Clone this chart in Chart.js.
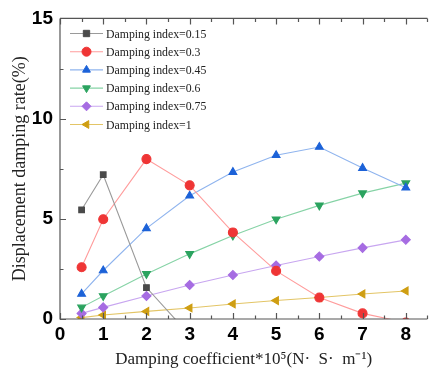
<!DOCTYPE html>
<html>
<head>
<meta charset="utf-8">
<script src="https://cdn.jsdelivr.net/npm/chart.js@4/dist/chart.umd.min.js"></script>
<style>
  html, body { margin: 0; padding: 0; background: #fff; }
  #wrap { width: 433px; height: 371px; position: relative; }
</style>
</head>
<body>
<div id="wrap"><canvas id="chart"></canvas></div>
<script>
// damping coefficient (x 10^5 N·S·m^-1)
const coefficients = [0.5, 1, 2, 3, 4, 5, 6, 7, 8];
const seriesNames = ['Damping index=0.15', 'Damping index=0.3', 'Damping index=0.45',
                     'Damping index=0.6', 'Damping index=0.75', 'Damping index=1'];

// displacement damping rate (%)
const rate015 = [5.45, 7.2, 1.57, -0.8];
const rate03  = [2.58, 4.98, 7.98, 6.67, 4.32, 2.4, 1.07, 0.28, -0.18];
const rate045 = [1.25, 2.42, 4.52, 6.15, 7.33, 8.17, 8.58, 7.53, 6.55];
const rate06  = [0.58, 1.15, 2.25, 3.25, 4.17, 4.98, 5.67, 6.28, 6.78];
const rate075 = [0.28, 0.58, 1.15, 1.7, 2.2, 2.67, 3.12, 3.55, 3.95];
const rate1   = [0.07, 0.2, 0.38, 0.55, 0.75, 0.92, 1.07, 1.25, 1.4];

const yTicks = [0, 5, 10, 15];

const styles = [
  { line: '#9a9a9a', point: '#4a4a4a', shape: 'rect', rot: 0 },
  { line: '#ff9c9c', point: '#ef3535', shape: 'circle', rot: 0 },
  { line: '#8fb4ee', point: '#1c62d8', shape: 'triangle', rot: 0 },
  { line: '#86d3a6', point: '#2ba35f', shape: 'triangle', rot: 180 },
  { line: '#c8a6f0', point: '#a66ce2', shape: 'rectRot', rot: 0 },
  { line: '#e3c566', point: '#cf9e12', shape: 'triangle', rot: -90 }
];

const allRates = [rate015, rate03, rate045, rate06, rate075, rate1];

const datasets = allRates.map((vals, i) => ({
  label: seriesNames[i],
  data: vals.map((v, j) => ({ x: coefficients[j], y: v })),
  borderColor: styles[i].line,
  backgroundColor: styles[i].point,
  pointBorderColor: styles[i].point,
  pointStyle: styles[i].shape,
  rotation: styles[i].rot,
  pointRadius: i === 0 ? 4 : 4.5,
  borderWidth: 1.1,
  tension: 0
}));

const axisColor = '#555';
const serif = '"Liberation Serif", "Times New Roman", serif';

// frame, inward ticks and the legend
const framePlugin = {
  id: 'frame',
  afterDraw(chart) {
    const { ctx, chartArea: a, scales } = chart;
    const xs = scales.x, ys = scales.y;
    ctx.save();
    ctx.strokeStyle = axisColor;
    ctx.lineWidth = 1.2;
    ctx.beginPath();
    ctx.moveTo(a.left, a.top); ctx.lineTo(a.right, a.top);
    ctx.moveTo(a.left, a.top); ctx.lineTo(a.left, a.bottom);
    ctx.lineTo(a.right, a.bottom);
    // x ticks, bottom and top
    for (let v = 0; v <= 8.5; v += 0.5) {
      const px = Math.round(xs.getPixelForValue(v)) + 0.5;
      const len = Number.isInteger(v) ? 6 : 3.5;
      ctx.moveTo(px, a.bottom); ctx.lineTo(px, a.bottom - len);
      ctx.moveTo(px, a.top); ctx.lineTo(px, a.top + len);
    }
    // y ticks, left
    for (let v = 0; v <= 15; v += 2.5) {
      const py = Math.round(ys.getPixelForValue(v)) + 0.5;
      const len = v % 5 === 0 ? 6 : 3.5;
      ctx.moveTo(a.left, py); ctx.lineTo(a.left + len, py);
    }
    ctx.stroke();

    // legend
    const lx0 = 70, lx1 = 103, mx = 86.5, tx = 106, y0 = 33.5, dy = 18.2;
    ctx.font = '11.8px ' + serif;
    ctx.textBaseline = 'middle';
    ctx.textAlign = 'left';
    chart.data.datasets.forEach((ds, i) => {
      const y = y0 + i * dy;
      ctx.strokeStyle = ds.borderColor;
      ctx.lineWidth = 1.1;
      ctx.beginPath();
      ctx.moveTo(lx0, y); ctx.lineTo(lx1, y);
      ctx.stroke();
      ctx.fillStyle = ds.backgroundColor;
      ctx.strokeStyle = ds.pointBorderColor;
      ctx.lineWidth = 1;
      Chart.helpers.drawPoint(ctx, { pointStyle: ds.pointStyle, rotation: ds.rotation, radius: 4.5, borderWidth: 1 }, mx, y);
      ctx.fillStyle = '#222';
      ctx.fillText(ds.label, tx, y + 1);
    });
    ctx.restore();
  }
};

new Chart(document.getElementById('chart'), {
  type: 'line',
  data: { datasets: datasets },
  options: {
    responsive: true,
    maintainAspectRatio: false,
    animation: false,
    layout: { padding: { top: 17, right: 0, left: 0, bottom: 0 } },
    plugins: { legend: { display: false }, tooltip: { enabled: false } },
    scales: {
      x: {
        type: 'linear',
        min: 0,
        max: 8.5,
        afterFit: s => { s.height = 52; },
        afterBuildTicks: s => { s.ticks = [0, 1, 2, 3, 4, 5, 6, 7, 8].map(v => ({ value: v })); },
        grid: { display: false, drawTicks: false },
        border: { display: false },
        ticks: {
          color: '#000',
          padding: 4,
          maxRotation: 0,
          autoSkip: false,
          font: { family: '"Liberation Sans", Arial, sans-serif', size: 19, weight: 'bold' }
        },
        title: {
          display: true,
          text: 'Damping coefficient*10⁵(N·  S·  m⁻¹)',
          color: '#222',
          padding: { top: 0, bottom: 1 },
          font: { family: serif, size: 17 }
        }
      },
      y: {
        min: 0,
        max: 15,
        afterFit: s => { s.width = 60; },
        afterBuildTicks: s => { s.ticks = yTicks.map(v => ({ value: v })); },
        grid: { display: false, drawTicks: false },
        border: { display: false },
        ticks: {
          color: '#000',
          padding: 7,
          font: { family: '"Liberation Sans", Arial, sans-serif', size: 19, weight: 'bold' }
        },
        title: {
          display: true,
          text: 'Displacement damping rate(%)',
          color: '#222',
          padding: { top: 9, bottom: 0 },
          font: { family: serif, size: 18 }
        }
      }
    }
  },
  plugins: [framePlugin]
});
</script>
</body>
</html>
